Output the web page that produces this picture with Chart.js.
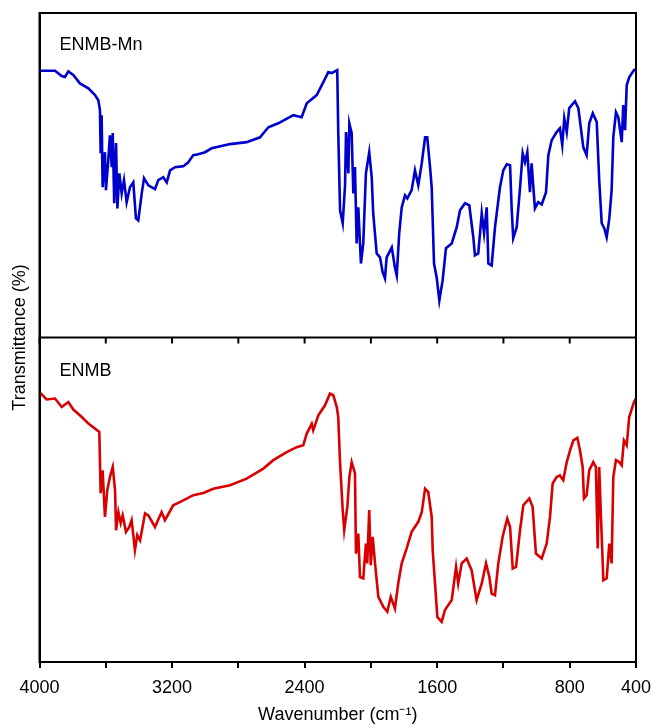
<!DOCTYPE html>
<html>
<head>
<meta charset="utf-8">
<script src="https://cdn.jsdelivr.net/npm/chart.js@4.4.1/dist/chart.umd.min.js"></script>
<style>
  html, body { margin: 0; padding: 0; background: #fff; }
  #wrap { width: 655px; height: 726px; }
</style>
</head>
<body>
<div id="wrap"><canvas id="myChart"></canvas></div>
<script>
// wavenumbers (cm-1) and transmittance (a.u., 0-100 per panel)
const mnWave = [4000, 3906, 3866, 3846, 3826, 3796, 3756, 3705, 3665, 3645, 3635, 3631, 3625, 3619, 3605, 3599, 3585, 3575, 3564, 3558,
    3549, 3538, 3530, 3518, 3504, 3490, 3474, 3454, 3434, 3418, 3404, 3383, 3369, 3343, 3303, 3283, 3253, 3232, 3212, 3182,
    3132, 3102, 3072, 3042, 3001, 2961, 2850, 2750, 2669, 2619, 2559, 2468, 2418, 2387, 2327, 2287, 2257, 2237, 2203, 2197,
    2186, 2170, 2156, 2150, 2136, 2130, 2116, 2106, 2096, 2086, 2076, 2060, 2046, 2030, 2010, 1995, 1986, 1965, 1945, 1929,
    1915, 1905, 1874, 1855, 1844, 1829, 1814, 1794, 1780, 1754, 1734, 1714, 1693, 1673, 1660, 1643, 1633, 1619, 1603, 1587,
    1567, 1547, 1512, 1482, 1462, 1432, 1406, 1382, 1372, 1352, 1331, 1317, 1301, 1291, 1271, 1251, 1221, 1201, 1180, 1160,
    1150, 1141, 1120, 1100, 1084, 1070, 1056, 1040, 1030, 1010, 990, 969, 943, 929, 909, 879, 859, 845, 833, 818,
    803, 768, 748, 718, 698, 682, 661, 637, 622, 607, 591, 577, 561, 547, 537, 521, 507, 486, 477, 466,
    456, 441, 412, 400];
const mnTrans = [82.2, 82.2, 80.6, 80.3, 82.0, 80.9, 78.3, 76.8, 74.7, 73.1, 70.1, 56.8, 68.5, 46.3, 57.1, 45.4, 54.6, 62.3, 52.5, 63.0,
    41.4, 59.9, 39.8, 50.6, 44.4, 48.5, 41.7, 46.3, 47.8, 36.7, 36.1, 44.4, 49.1, 46.9, 45.7, 48.5, 49.4, 47.8, 51.5, 52.5,
    52.8, 54.0, 56.2, 56.5, 57.1, 58.3, 59.6, 60.2, 61.7, 64.8, 66.0, 68.5, 67.9, 72.2, 74.7, 78.7, 81.8, 81.5, 82.4, 63.3,
    39.2, 35.2, 46.9, 63.3, 50.6, 66.0, 63.0, 44.4, 52.5, 29.0, 40.1, 22.8, 29.0, 50.6, 57.1, 49.4, 38.3, 25.9, 24.7, 20.1,
    18.2, 24.7, 27.8, 21.6, 19.1, 32.1, 40.1, 43.8, 42.9, 45.4, 51.5, 46.9, 53.7, 61.7, 61.7, 52.5, 46.3, 22.8, 18.5, 11.4,
    17.6, 27.5, 29.0, 34.0, 39.2, 41.4, 40.7, 30.9, 25.3, 25.9, 38.3, 32.1, 40.1, 22.8, 22.2, 34.0, 46.3, 51.5, 53.4, 53.1,
    39.2, 30.6, 34.0, 46.0, 56.8, 54.0, 57.1, 44.8, 53.7, 39.8, 41.7, 41.0, 44.8, 56.2, 60.8, 63.3, 64.5, 59.3, 67.6, 63.3,
    70.7, 72.8, 70.7, 58.6, 56.2, 66.0, 69.1, 66.4, 48.5, 35.2, 33.6, 30.9, 36.7, 45.4, 61.7, 69.4, 67.9, 60.2, 71.6, 63.9,
    77.8, 80.2, 82.4, 82.7];

const enWave = [4000, 3991, 3957, 3906, 3866, 3826, 3796, 3745, 3705, 3639, 3631, 3619, 3605, 3591, 3575, 3558, 3544, 3538, 3524, 3510,
    3498, 3478, 3458, 3444, 3424, 3410, 3393, 3363, 3343, 3303, 3263, 3243, 3193, 3132, 3072, 3011, 2951, 2850, 2750, 2649,
    2589, 2508, 2448, 2408, 2387, 2357, 2348, 2317, 2277, 2247, 2227, 2206, 2197, 2186, 2170, 2161, 2142, 2130, 2116, 2096,
    2090, 2076, 2066, 2046, 2030, 2022, 2010, 2001, 1989, 1975, 1955, 1925, 1901, 1880, 1855, 1835, 1814, 1784, 1754, 1714,
    1693, 1673, 1654, 1633, 1627, 1613, 1599, 1573, 1553, 1512, 1486, 1473, 1452, 1422, 1392, 1362, 1331, 1305, 1285, 1271,
    1251, 1231, 1205, 1177, 1160, 1144, 1124, 1100, 1080, 1044, 1024, 1004, 969, 939, 919, 903, 879, 859, 839, 818,
    798, 778, 754, 738, 722, 714, 698, 682, 658, 642, 631, 622, 613, 597, 577, 561, 547, 537, 521, 501,
    486, 473, 456, 441, 412, 400];
const enTrans = [83.1, 82.7, 80.9, 81.2, 78.6, 80.1, 77.8, 75.5, 73.5, 70.9, 52.0, 59.1, 44.7, 52.9, 57.0, 60.1, 52.9, 40.6, 46.2, 42.8,
    45.2, 40.1, 41.6, 43.7, 34.5, 39.1, 37.5, 45.8, 45.2, 41.6, 46.2, 43.7, 48.3, 49.8, 51.4, 52.1, 53.4, 54.5, 56.5, 59.6,
    62.2, 64.7, 66.2, 66.8, 70.4, 73.4, 71.4, 76.0, 79.1, 82.7, 82.2, 78.6, 75.5, 61.2, 46.8, 40.6, 47.8, 57.0, 61.6, 58.1,
    33.4, 39.6, 26.2, 25.8, 36.5, 30.4, 46.8, 29.8, 38.6, 30.4, 20.1, 17.0, 15.5, 20.1, 16.5, 24.2, 30.4, 35.0, 40.1, 43.2,
    46.2, 53.4, 52.4, 44.7, 34.5, 24.2, 13.9, 12.4, 16.0, 19.1, 29.3, 24.2, 30.4, 31.9, 28.3, 19.1, 24.2, 30.4, 26.2, 21.1,
    20.6, 30.4, 38.6, 44.2, 41.6, 28.8, 29.3, 40.6, 48.3, 50.4, 47.8, 33.4, 31.9, 36.5, 44.7, 55.0, 57.0, 57.5, 56.0, 61.6,
    65.2, 68.3, 69.1, 65.2, 60.1, 50.4, 51.4, 59.1, 61.6, 60.1, 35.0, 60.1, 46.8, 25.2, 25.8, 36.5, 30.4, 57.0, 62.2, 61.6,
    60.6, 68.3, 66.8, 75.5, 80.1, 81.2];

const tickLabels = [4000, 3200, 2400, 1600, 800, 400];

const toPoints = (xs, ys) => xs.map((x, i) => ({x: x, y: ys[i]}));

const panelDecor = {
    id: 'panelDecor',
    afterDraw(chart) {
        const c = chart.ctx;
        const a = chart.chartArea;
        const xs = chart.scales.x;
        const mid = chart.scales.yTop.bottom;
        c.save();
        c.strokeStyle = '#000';
        c.lineWidth = 2;
        c.strokeRect(a.left, a.top, a.right - a.left, a.bottom - a.top);
        c.beginPath();
        c.moveTo(a.left, mid);
        c.lineTo(a.right, mid);
        for (let v = 4000; v >= 400; v -= 400) {
            const px = xs.getPixelForValue(v);
            c.moveTo(px, mid);
            c.lineTo(px, mid + 6);
        }
        c.stroke();
        c.fillStyle = '#000';
        c.font = '18px "Liberation Sans", Arial, sans-serif';
        c.textBaseline = 'middle';
        c.fillText('ENMB-Mn', a.left + 20, a.top + 32);
        c.fillText('ENMB', a.left + 20, mid + 34);
        c.translate(20, (a.top + a.bottom) / 2);
        c.rotate(-Math.PI / 2);
        c.textAlign = 'center';
        c.fillText('Transmittance (%)', 0, 0);
        c.restore();
    }
};

Chart.defaults.font.family = '"Liberation Sans", Arial, sans-serif';
Chart.defaults.font.size = 18;
Chart.defaults.color = '#000';

const yPanel = {
    type: 'linear',
    position: 'left',
    stack: 'ir',
    stackWeight: 1,
    min: 0,
    max: 100,
    ticks: { display: false },
    grid: { display: false },
    border: { color: '#000', width: 2 },
    afterFit: (s) => { s.width = 0; }
};

const ctx = document.getElementById('myChart');
const myChart = new Chart(ctx, {
    type: 'line',
    data: {
        datasets: [{
            label: 'ENMB-Mn',
            data: toPoints(mnWave, mnTrans),
            yAxisID: 'yTop',
            borderColor: '#0000CC',
            borderWidth: 2.6,
            pointRadius: 0,
            tension: 0
        }, {
            label: 'ENMB',
            data: toPoints(enWave, enTrans),
            yAxisID: 'yBot',
            borderColor: '#D80000',
            borderWidth: 2.6,
            pointRadius: 0,
            tension: 0
        }]
    },
    options: {
        responsive: true,
        maintainAspectRatio: false,
        animation: false,
        layout: { padding: { left: 39.5, right: 19, top: 13, bottom: 0 } },
        plugins: {
            legend: { display: false },
            tooltip: { enabled: false }
        },
        scales: {
            x: {
                type: 'linear',
                reverse: true,
                min: 400,
                max: 4000,
                border: { color: '#000', width: 2 },
                grid: { drawOnChartArea: false, color: '#000', lineWidth: 2, tickLength: 6 },
                ticks: {
                    stepSize: 400,
                    autoSkip: false,
                    maxRotation: 0,
                    padding: 9,
                    callback: (v) => tickLabels.includes(v) ? String(v) : ''
                },
                title: { display: true, text: 'Wavenumber (cm⁻¹)', padding: { top: 4, bottom: 0 } },
                afterFit: (s) => { s.height = 64; s.paddingLeft = 0; s.paddingRight = 0; }
            },
            // listed bottom first: Chart.js stacks left axes in reverse order
            yBot: { ...yPanel },
            yTop: { ...yPanel }
        }
    },
    plugins: [panelDecor]
});
</script>
</body>
</html>
